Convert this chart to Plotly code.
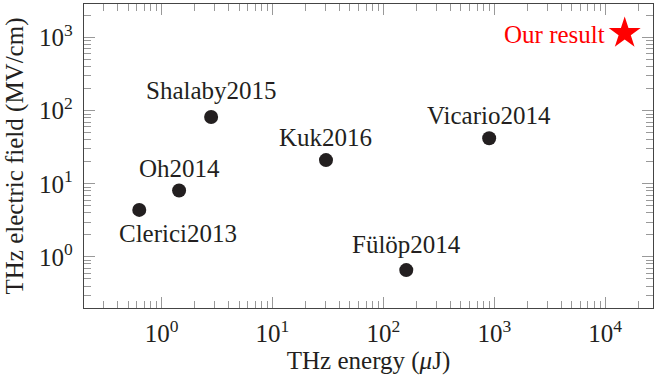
import math
import plotly.graph_objects as go

# ---- data ----
names = ["Clerici2013", "Oh2014", "Shalaby2015", "Kuk2016", "Fülöp2014", "Vicario2014"]
energy_uJ = [0.63, 1.44, 2.8, 30.4, 161, 900]
field_MVcm = [4.4, 8.1, 82, 21.1, 0.66, 42]

our_name = "Our result"
our_energy = [1.5e4]
our_field = [1.15e3]

x_tickvals = [1, 10, 100, 1000, 10000]
x_ticktext = ["10<sup>0</sup>", "10<sup>1</sup>", "10<sup>2</sup>", "10<sup>3</sup>", "10<sup>4</sup>"]
y_tickvals = [1, 10, 100, 1000]
y_ticktext = ["10<sup>0</sup>", "10<sup>1</sup>", "10<sup>2</sup>", "10<sup>3</sup>"]

# label offsets (pixels) -- style
label_shift = {
    "Clerici2013": (39, -24),
    "Oh2014": (0, 22),
    "Shalaby2015": (0, 27),
    "Kuk2016": (0, 23),
    "Fülöp2014": (0, 26),
    "Vicario2014": (0, 23),
}

FONT = "Liberation Serif"
TXT = "#231f20"
FS = 25

fig = go.Figure()
fig.add_trace(go.Scatter(
    x=energy_uJ, y=field_MVcm, mode="markers",
    marker=dict(size=14, color=TXT, line=dict(width=0)),
    showlegend=False, hoverinfo="skip"))
fig.add_trace(go.Scatter(
    x=our_energy, y=our_field, mode="markers",
    marker=dict(size=24, color="#ff0000", symbol="star", line=dict(width=0)),
    showlegend=False, hoverinfo="skip"))

for n, xv, yv in zip(names, energy_uJ, field_MVcm):
    dx, dy = label_shift[n]
    fig.add_annotation(x=math.log10(xv), y=math.log10(yv), xref="x", yref="y",
                       text=n, showarrow=False, xshift=dx, yshift=dy,
                       xanchor="center", yanchor="middle",
                       font=dict(family=FONT, size=FS, color=TXT))
fig.add_annotation(x=math.log10(our_energy[0]), y=math.log10(our_field[0]), xref="x", yref="y",
                   text=our_name, showarrow=False, xshift=-18, yshift=-1,
                   xanchor="right", yanchor="middle",
                   font=dict(family=FONT, size=FS, color="#ff0000"))

axis_common = dict(
    type="log", showgrid=False, zeroline=False,
    showline=True, linecolor="#444444", linewidth=1.3, mirror="allticks",
    ticks="inside", ticklen=11, tickwidth=1, tickcolor="#999999",
    tickfont=dict(family=FONT, size=FS, color=TXT),
    minor=dict(ticks="inside", ticklen=7, tickwidth=1, tickcolor="#999999",
               dtick="D1", showgrid=False),
)

fig.update_xaxes(**axis_common, range=[math.log10(0.2), math.log10(2.7e4)],
                 tickvals=x_tickvals, ticktext=x_ticktext,
                 title=dict(text="THz energy (<i>μ</i>J)", font=dict(family=FONT, size=FS, color=TXT),
                            standoff=4),
                 ticklabelstandoff=3)
fig.update_yaxes(**axis_common, range=[math.log10(0.2), 3.46],
                 tickvals=y_tickvals, ticktext=y_ticktext,
                 title=dict(text="THz electric field (MV/cm)", font=dict(family=FONT, size=FS, color=TXT),
                            standoff=8),
                 ticklabelstandoff=5)

fig.update_layout(
    width=654, height=380,
    margin=dict(l=84, r=1, t=4, b=72),
    plot_bgcolor="white", paper_bgcolor="white",
    font=dict(family=FONT, size=FS, color=TXT),
)

fig.write_html("out.html")
